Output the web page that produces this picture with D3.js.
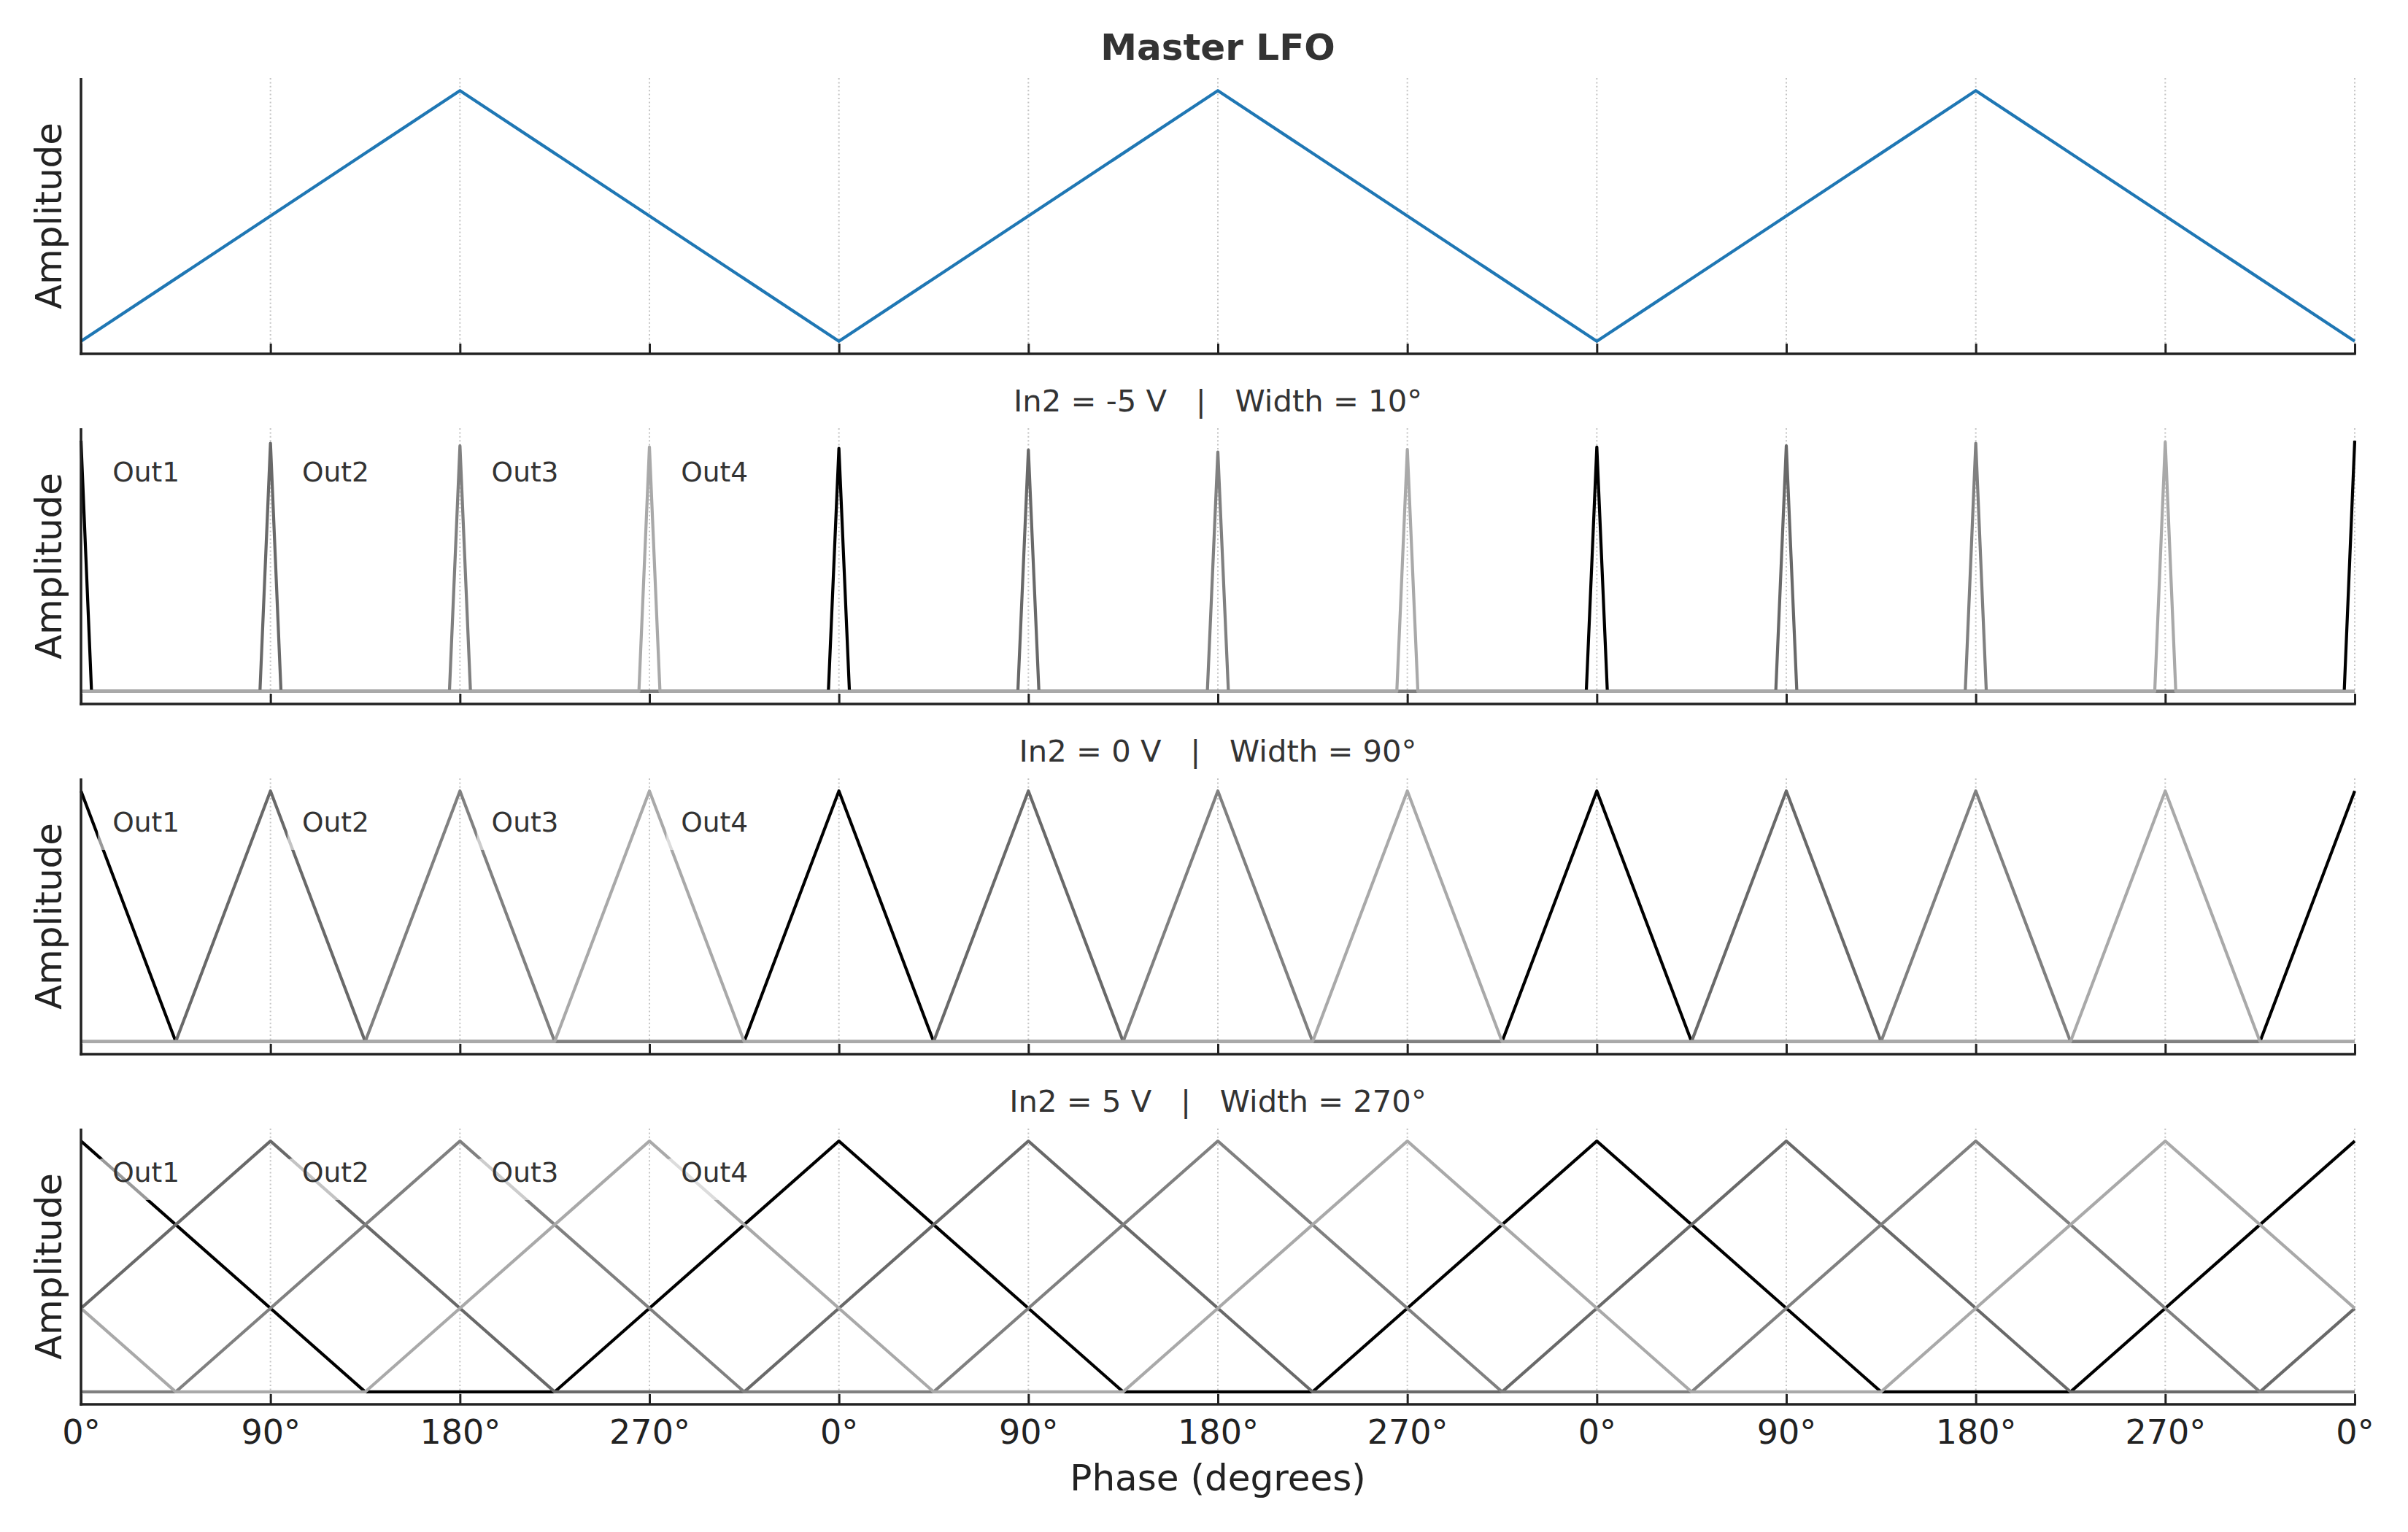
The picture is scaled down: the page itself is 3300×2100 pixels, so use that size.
<!DOCTYPE html>
<html>
<head>
<meta charset="utf-8">
<script src="https://cdn.jsdelivr.net/npm/d3@7"></script>
<style>
  body { margin: 0; background: #fff; }
  svg { display: block; font-family: "DejaVu Sans", sans-serif; }
</style>
</head>
<body>
<svg id="chart" width="3300" height="2100"></svg>
<script>
// phase runs over three cycles, ticks every 90 deg
var tickPhases = [0, 90, 180, 270, 360, 450, 540, 630, 720, 810, 900, 990, 1080];
var tickLabels = ["0°", "90°", "180°", "270°", "0°", "90°", "180°", "270°", "0°", "90°", "180°", "270°", "0°"];

var panelTitles = ["Master LFO", "In2 = -5 V   |   Width = 10°", "In2 = 0 V   |   Width = 90°", "In2 = 5 V   |   Width = 270°"];
var outNames = ["Out1", "Out2", "Out3", "Out4"];
var outLabelPhases = [0, 90, 180, 270];
var outColors = ["#000000", "#696969", "#808080", "#a9a9a9"];

// master triangle [phase, amplitude]
var masterLFO = [[0, 0], [180, 1], [360, 0], [540, 1], [720, 0], [900, 1], [1080, 0]];

// In2 = -5 V, width 10
var narrowOut1 = [[0, 1.0], [5, 0], [355, 0], [360, 0.97], [365, 0], [715, 0], [720, 0.975], [725, 0], [1075, 0], [1080, 1.0]];
var narrowOut2 = [[0, 0], [85, 0], [90, 0.99], [95, 0], [445, 0], [450, 0.963], [455, 0], [805, 0], [810, 0.98], [815, 0], [1080, 0]];
var narrowOut3 = [[0, 0], [175, 0], [180, 0.98], [185, 0], [535, 0], [540, 0.955], [545, 0], [895, 0], [900, 0.99], [905, 0], [1080, 0]];
var narrowOut4 = [[0, 0], [265, 0], [270, 0.975], [275, 0], [625, 0], [630, 0.965], [635, 0], [985, 0], [990, 0.995], [995, 0], [1080, 0]];

// In2 = 0 V, width 90
var midOut1 = [[0, 1], [45, 0], [315, 0], [360, 1], [405, 0], [675, 0], [720, 1], [765, 0], [1035, 0], [1080, 1]];
var midOut2 = [[0, 0], [45, 0], [90, 1], [135, 0], [405, 0], [450, 1], [495, 0], [765, 0], [810, 1], [855, 0], [1080, 0]];
var midOut3 = [[0, 0], [135, 0], [180, 1], [225, 0], [495, 0], [540, 1], [585, 0], [855, 0], [900, 1], [945, 0], [1080, 0]];
var midOut4 = [[0, 0], [225, 0], [270, 1], [315, 0], [585, 0], [630, 1], [675, 0], [945, 0], [990, 1], [1035, 0], [1080, 0]];

// In2 = 5 V, width 270
var wideOut1 = [[0, 1], [135, 0], [225, 0], [360, 1], [495, 0], [585, 0], [720, 1], [855, 0], [945, 0], [1080, 1]];
var wideOut2 = [[0, 0.333], [90, 1], [225, 0], [315, 0], [450, 1], [585, 0], [675, 0], [810, 1], [945, 0], [1035, 0], [1080, 0.333]];
var wideOut3 = [[0, 0], [45, 0], [180, 1], [315, 0], [405, 0], [540, 1], [675, 0], [765, 0], [900, 1], [1035, 0], [1080, 0]];
var wideOut4 = [[0, 0.333], [45, 0], [135, 0], [270, 1], [405, 0], [495, 0], [630, 1], [765, 0], [855, 0], [990, 1], [1080, 0.333]];

var panels = [
  { title: panelTitles[0], bold: true, series: [masterLFO], colors: ["#1f77b4"], labels: false },
  { title: panelTitles[1], series: [narrowOut1, narrowOut2, narrowOut3, narrowOut4], colors: outColors, labels: true },
  { title: panelTitles[2], series: [midOut1, midOut2, midOut3, midOut4], colors: outColors, labels: true },
  { title: panelTitles[3], series: [wideOut1, wideOut2, wideOut3, wideOut4], colors: outColors, labels: true }
];

var svg = d3.select("#chart");
var left = 111, right = 3227;
var panelTops = [107, 587, 1067, 1547];
var panelH = 378;

var x = d3.scaleLinear().domain([0, 1080]).range([left, right]);

panels.forEach(function(p, k) {
  var top = panelTops[k];
  var bottom = top + panelH;
  var y = d3.scaleLinear().domain([-0.05, 1.05]).range([bottom, top]);
  var g = svg.append("g");

  // dotted vertical grid
  g.selectAll(".grid")
    .data(tickPhases)
    .enter()
    .append("line")
    .attr("x1", d => x(d)).attr("x2", d => x(d))
    .attr("y1", top).attr("y2", bottom)
    .attr("stroke", "#c4c4c4")
    .attr("stroke-width", 2)
    .attr("stroke-dasharray", "2,3.4");

  var line = d3.line().x(d => x(d[0])).y(d => y(d[1]));
  p.series.forEach(function(s, i) {
    g.append("path")
      .attr("d", line(s))
      .attr("fill", "none")
      .attr("stroke", p.colors[i])
      .attr("stroke-width", 4.2)
      .attr("stroke-linejoin", "round");
  });

  // x axis, ticks pointing inward
  var last = k == panels.length - 1;
  var axis = d3.axisBottom(x)
    .tickValues(tickPhases)
    .tickFormat((d, i) => last ? tickLabels[i] : "")
    .tickSizeInner(-14)
    .tickSizeOuter(0)
    .tickPadding(21);
  var ax = g.append("g")
    .attr("transform", `translate(0, ${bottom})`)
    .call(axis);
  ax.select(".domain").remove();
  ax.selectAll(".tick line").attr("stroke", "#222").attr("stroke-width", 3);
  ax.selectAll(".tick text")
    .attr("fill", "#222")
    .style("font-size", "46px")
    .style("font-family", "DejaVu Sans");

  // spines: left and bottom
  g.append("line")
    .attr("x1", left).attr("x2", left)
    .attr("y1", top).attr("y2", bottom + 1.75)
    .attr("stroke", "#222").attr("stroke-width", 3.5);
  g.append("line")
    .attr("x1", left - 1.75).attr("x2", right + 1.75)
    .attr("y1", bottom).attr("y2", bottom)
    .attr("stroke", "#222").attr("stroke-width", 3.5);

  // y label
  g.append("text")
    .attr("transform", `translate(84, ${(top + bottom) / 2}) rotate(-90)`)
    .attr("text-anchor", "middle")
    .attr("fill", "#222")
    .style("font-size", "50px")
    .text("Amplitude");

  // panel title
  g.append("text")
    .attr("x", (left + right) / 2)
    .attr("y", p.bold ? 82 : top - 23)
    .attr("text-anchor", "middle")
    .attr("fill", "#333")
    .attr("xml:space", "preserve")
    .style("white-space", "pre")
    .style("font-size", p.bold ? "50px" : "41.7px")
    .style("font-weight", p.bold ? "bold" : "normal")
    .text(p.title);

  // Out labels with translucent white box
  if (p.labels) {
    outNames.forEach(function(name, i) {
      var tx = x(outLabelPhases[i] + 15);
      var ty = top + 73;
      var box = g.append("rect");
      var t = g.append("text")
        .attr("x", tx).attr("y", ty)
        .attr("fill", "#333")
        .style("font-size", "37.5px")
        .text(name);
      var w = t.node().getComputedTextLength();
      box.attr("x", tx - 20).attr("y", ty - 32)
        .attr("width", w + 40).attr("height", 57)
        .attr("rx", 6)
        .attr("fill", "#fff")
        .attr("fill-opacity", 0.6);
    });
  }
});

svg.append("text")
  .attr("x", (left + right) / 2)
  .attr("y", 2043)
  .attr("text-anchor", "middle")
  .attr("fill", "#222")
  .style("font-size", "50px")
  .text("Phase (degrees)");
</script>
</body>
</html>
